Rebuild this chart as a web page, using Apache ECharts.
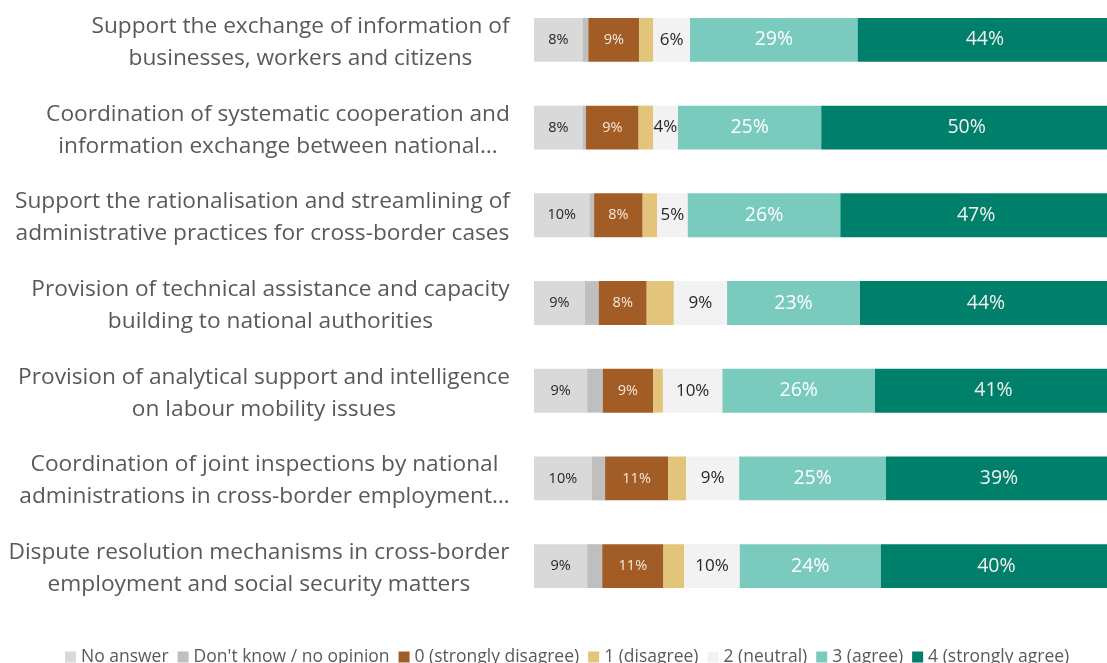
<!DOCTYPE html>
<html>
<head>
<meta charset="utf-8">
<script src="https://cdn.jsdelivr.net/npm/echarts@6/dist/echarts.min.js"></script>
<style>
html,body{margin:0;padding:0;background:#fff;}
#chart{width:1107px;height:663px;}
</style>
</head>
<body>
<div id="chart"></div>
<script>
const categories = [
  'Support the exchange of information of\nbusinesses, workers and citizens',
  'Coordination of systematic cooperation and\ninformation exchange between national…',
  'Support the rationalisation and streamlining of\nadministrative practices for cross-border cases',
  'Provision of technical assistance and capacity\nbuilding to national authorities',
  'Provision of analytical support and intelligence\non labour mobility issues',
  'Coordination of joint inspections by national\nadministrations in cross-border employment…',
  'Dispute resolution mechanisms in cross-border\nemployment and social security matters'
];
const seriesNames = ['No answer', "Don't know / no opinion", '0 (strongly disagree)', '1 (disagree)', '2 (neutral)', '3 (agree)', '4 (strongly agree)'];
const noAnswer       = [8.4, 8.4, 9.6, 8.8, 9.2, 10.0, 9.2];
const dontKnow       = [1.0, 0.6, 0.8, 2.4, 2.7, 2.3, 2.6];
const strongDisagree = [8.8, 9.1, 8.4, 8.3, 8.7, 10.9, 10.6];
const disagree       = [2.4, 2.5, 2.5, 4.7, 1.7, 3.1, 3.6];
const neutral        = [6.4, 4.3, 5.3, 9.2, 10.3, 9.2, 9.6];
const agree          = [29.0, 24.8, 26.4, 23.0, 26.4, 25.4, 24.4];
const strongAgree    = [44.0, 50.3, 47.0, 43.6, 41.0, 39.1, 40.0];

const FONT = 'Open Sans';
const catFontSize = 22.7;
const colors = ['#d9d9d9', '#bfbfbf', '#a25d27', '#e2c47b', '#f2f2f2', '#7acbbe', '#007f6a'];
const labelCfg = [
  {show: true, color: '#262626', fontSize: 14.5},
  {show: false},
  {show: true, color: '#f5e8d8', fontSize: 14.5},
  {show: false},
  {show: true, color: '#262626', fontSize: 17},
  {show: true, color: '#ffffff', fontSize: 19.5},
  {show: true, color: '#f2f2f2', fontSize: 19.5}
];
const allData = [noAnswer, dontKnow, strongDisagree, disagree, neutral, agree, strongAgree];

const cv = document.createElement('canvas').getContext('2d');
cv.font = catFontSize + 'px "' + FONT + '"';
const rich = {};
categories.forEach((c, i) => {
  const w = Math.max(...c.split('\n').map(s => cv.measureText(s).width));
  rich['r' + i] = {width: Math.ceil(w), align: 'center', fontSize: catFontSize, fontFamily: FONT, color: '#595959', lineHeight: 32};
});

const chart = echarts.init(document.getElementById('chart'));
chart.setOption({
  animation: false,
  textStyle: {fontFamily: FONT},
  grid: {left: 534, width: 578, top: -4, height: 614, containLabel: false, outerBoundsMode: 'none'},
  legend: {
    data: seriesNames,
    left: 60, top: 643,
    icon: 'rect', itemWidth: 11, itemHeight: 11, itemGap: 9,
    textStyle: {color: '#595959', fontSize: 17.5, fontFamily: FONT}
  },
  xAxis: {type: 'value', min: 0, max: 100, show: false},
  yAxis: {
    type: 'category', data: categories, inverse: true,
    axisLine: {show: false}, axisTick: {show: false},
    axisLabel: {
      margin: 24,
      padding: [5, 0, 0, 0],
      formatter: (v, i) => v.split('\n').map(s => '{r' + i + '|' + s + '}').join('\n'),
      rich: rich
    }
  },
  series: allData.map((d, k) => ({
    name: seriesNames[k], type: 'bar', stack: 'total', data: d,
    barCategoryGap: '50%',
    itemStyle: {color: colors[k]},
    label: Object.assign({position: 'inside', fontFamily: FONT, formatter: p => Math.round(p.value) + '%'}, labelCfg[k])
  }))
});
</script>
</body>
</html>
